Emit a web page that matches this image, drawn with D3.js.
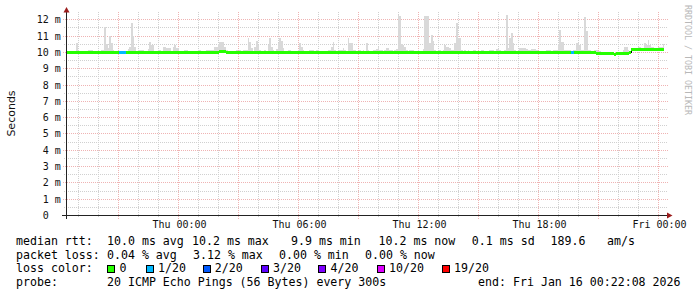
<!DOCTYPE html>
<html><head><meta charset="utf-8">
<script src="https://cdn.jsdelivr.net/npm/d3@7"></script>
<style>html,body{margin:0;padding:0;background:#fff;} svg{display:block;} text{white-space:pre;}</style>
</head><body><svg id="c" width="697" height="297"></svg>
<script>
// ---------------- data ----------------
const startTime = new Date(2026, 0, 14, 18, 22, 8);
const endTime = new Date(2026, 0, 16, 0, 22, 8);
const stepMinutes = 5;

const yTickValues = [0,1,2,3,4,5,6,7,8,9,10,11,12];
const yTickLabels = ["0  ","1 m","2 m","3 m","4 m","5 m","6 m","7 m","8 m","9 m","10 m","11 m","12 m"];
const yAxisTitle = "Seconds";
const watermark = "RRDTOOL / TOBI OETIKER";

// median RTT per 5-minute step (ms)
const medianRtt = [
 10.0,10.0,10.0,10.0,9.98,9.98,10.0,10.0,10.0,10.0,9.98,9.98,
 10.0,10.0,10.0,10.0,9.98,10.0,10.0,10.0,10.0,10.0,10.02,10.02,
 10.02,10.0,10.0,10.0,10.0,10.0,10.0,10.0,9.98,9.98,9.98,9.98,
 10.0,10.0,10.0,10.02,10.0,10.0,10.0,10.0,10.0,9.98,10.0,10.0,
 10.0,10.0,10.0,10.0,9.98,9.98,10.0,10.0,10.0,10.0,10.0,10.0,
 10.0,10.0,10.0,9.98,10.0,10.0,10.0,10.0,10.0,9.98,9.98,10.0,
 10.0,10.0,9.98,9.98,9.98,9.98,10.0,10.0,10.0,10.0,10.0,10.0,
 10.0,10.0,10.0,10.02,10.02,10.02,10.02,10.0,10.06,10.08,10.08,10.06,
 10.0,10.0,10.0,10.0,10.0,10.0,9.98,9.98,10.0,10.0,10.0,10.0,
 10.0,10.0,10.0,10.0,10.0,10.0,10.0,9.98,9.98,10.0,10.0,10.0,
 10.0,10.0,10.0,10.0,10.0,10.0,10.0,10.0,10.0,9.98,10.0,10.0,
 10.0,10.0,10.0,10.0,10.0,10.0,10.0,10.0,9.98,10.0,10.0,10.0,
 10.0,10.0,10.0,10.0,10.0,9.98,9.98,10.0,10.0,10.0,10.0,10.0,
 10.0,10.0,10.0,10.0,10.0,10.0,10.0,10.0,10.0,10.0,9.98,10.0,
 10.0,10.0,10.0,10.0,10.0,10.0,10.0,9.98,10.0,10.0,10.0,10.0,
 10.0,10.0,10.0,10.0,10.0,10.0,10.0,10.0,10.0,10.0,10.0,10.0,
 10.0,10.0,10.0,10.0,10.0,10.0,10.0,10.0,10.0,10.0,10.0,10.0,
 10.0,10.0,10.0,10.0,10.0,9.98,9.98,10.0,10.0,10.0,10.0,10.0,
 10.0,10.0,10.0,10.0,10.0,10.0,10.0,10.0,10.0,10.0,10.0,10.0,
 10.0,10.0,10.0,10.0,10.0,10.0,10.0,10.0,10.0,10.0,10.0,10.0,
 10.0,10.0,10.0,9.98,9.98,10.0,10.0,10.0,10.0,10.0,10.0,10.0,
 10.0,10.0,10.0,10.0,10.0,10.0,10.0,10.0,10.0,10.0,10.0,10.0,
 10.0,10.0,10.0,10.0,10.0,10.0,10.0,10.0,10.0,10.0,10.0,10.0,
 10.0,10.0,10.0,10.0,10.0,10.0,10.0,10.0,9.98,9.98,10.0,10.0,
 10.0,10.0,10.0,10.0,10.0,10.0,10.0,10.0,10.0,10.0,10.0,10.0,
 10.0,10.0,10.0,10.0,10.0,10.0,10.0,10.0,10.0,10.0,10.0,10.0,
 10.0,10.0,9.98,9.98,9.98,9.98,9.96,9.96,9.96,9.96,9.96,9.95,
 9.95,9.95,9.95,9.95,9.92,9.9,9.92,9.95,9.95,9.95,9.95,9.96,
 9.96,9.96,9.97,10.17,10.17,10.17,10.17,10.17,10.17,10.17,10.17,10.17,
 10.17,10.17,10.17,10.17,10.17,10.17,10.17,10.17,10.17,10.17,10.17
];

// highest ping of the smoke per 5-minute step (ms)
const smokeHigh = [
 10.04,10.04,10.06,10.1,10.1,10.1,10.55,10.1,10.1,10.08,10.08,10.1,
 10.1,10.17,10.17,10.12,10.1,10.1,10.1,10.08,10.1,10.12,10.15,11.53,
 10.5,10.3,11.02,10.55,10.12,10.08,10.05,10.05,10.08,10.1,10.1,10.08,
 10.1,10.2,10.35,11.82,11.02,10.35,10.1,10.12,10.12,10.17,10.17,10.1,
 10.1,10.24,10.65,10.45,10.45,10.1,10.05,10.15,10.15,10.08,10.35,10.35,
 10.25,10.27,10.27,10.1,10.35,10.47,10.3,10.25,10.1,10.08,10.1,10.12,
 10.12,10.1,10.1,10.08,10.05,10.05,10.1,10.12,10.12,10.1,10.08,10.1,
 10.12,10.15,10.15,10.12,10.15,10.35,10.35,10.51,10.61,10.61,10.67,10.35,
 10.12,10.08,10.05,10.05,10.1,10.1,10.12,10.1,10.12,10.1,10.15,10.12,
 10.15,10.86,10.61,10.3,10.1,10.35,10.72,10.45,10.12,10.1,10.1,10.12,
 10.1,10.45,10.9,10.35,10.12,10.1,10.2,10.6,10.9,10.72,10.25,10.1,
 10.1,10.17,10.12,10.1,10.08,10.1,10.1,10.15,10.58,10.35,10.12,10.1,
 10.1,10.1,10.12,10.15,10.12,10.1,10.15,10.12,10.1,10.1,10.08,10.1,
 10.1,10.12,10.15,10.35,10.65,10.15,10.1,10.1,10.12,10.15,10.27,10.15,
 10.1,10.88,10.6,10.6,10.15,10.12,10.1,10.1,10.12,10.1,10.12,10.1,
 10.55,10.12,10.1,10.1,10.12,10.15,10.2,10.31,10.15,10.12,10.1,10.15,
 10.3,10.3,10.15,10.12,10.1,10.15,10.2,12.3,12.25,10.51,10.45,10.35,
 10.12,10.1,10.12,10.15,10.12,10.1,10.1,10.12,10.1,10.1,10.2,12.25,
 12.25,12.25,10.6,11.08,10.72,10.15,10.1,10.1,10.12,10.1,10.15,10.45,
 10.35,10.35,10.27,10.12,10.15,10.55,11.8,10.88,10.88,10.15,10.1,10.12,
 10.1,10.12,10.1,10.1,10.12,10.12,10.1,10.1,10.1,10.12,10.12,10.1,
 10.1,10.1,10.12,10.17,10.12,10.1,10.2,10.2,10.12,10.1,10.1,10.15,
 12.27,10.3,10.88,11.2,10.55,10.12,10.1,10.1,10.27,10.27,10.27,10.27,
 10.2,10.15,10.15,10.24,10.24,10.2,10.12,10.1,10.1,10.1,10.1,10.1,
 10.15,10.15,10.12,10.1,10.15,10.12,10.15,10.5,11.39,10.65,10.65,10.12,
 10.12,10.15,10.12,10.1,10.15,10.12,10.6,10.6,10.45,10.15,10.12,12.15,
 11.33,10.15,10.12,10.1,10.1,10.12,10.12,10.1,10.08,10.05,10.05,10.05,
 10.02,10.02,10.0,10.0,10.0,9.98,9.98,10.0,10.02,10.05,10.12,10.35,
 10.35,10.17,10.1,10.3,10.3,10.3,10.3,10.32,10.32,10.3,10.3,10.55,
 10.45,10.78,10.45,10.32,10.32,10.3,10.3,10.32,10.35,10.35,10.51
];

// steps with packet loss (count out of 20)
const lossStep = [32, 33, 34, 35, 303, 304];
const lossCount = [1, 1, 1, 1, 1, 1];

const lossThresholds = [0, 1, 2, 3, 4, 10, 19];
const lossLabels = ["0", "1/20", "2/20", "3/20", "4/20", "10/20", "19/20"];
const lossColors = ["#26ff00", "#00b8ff", "#0059ff", "#5e00ff", "#7e00ff", "#dd00ff", "#ff0000"];

const legendRtt = ["median rtt:", "10.0 ms avg", "10.2 ms max", "9.9 ms min", "10.2 ms now", "0.1 ms sd", "189.6", "am/s"];
const legendLoss = ["packet loss:", "0.04 % avg", "3.12 % max", "0.00 % min", "0.00 % now"];
const legendColorTitle = "loss color:";
const legendProbe = ["probe:", "20 ICMP Echo Pings (56 Bytes) every 300s"];
const legendEnd = "end: Fri Jan 16 00:22:08 2026";

// ---------------- drawing ----------------
const svg = d3.select("#c");
const x = d3.scaleTime().domain([startTime, endTime]).range([66, 666]);
const y = d3.scaleLinear().domain([0, 12.48]).range([215.5, 12]);
const px = v => Math.floor(v) + 0.5;
const mono = "'DejaVu Sans Mono', monospace";

const steps = medianRtt.map((m, i) => {
  const li = lossStep.indexOf(i);
  const lc = li >= 0 ? lossCount[li] : 0;
  let ci = 0;
  lossThresholds.forEach((t, k) => { if (lc >= t) ci = k; });
  return { i, t0: d3.timeMinute.offset(startTime, i * stepMinutes),
           t1: d3.timeMinute.offset(startTime, (i + 1) * stepMinutes),
           med: m, hi: smokeHigh[i], color: lossColors[ci], loss: lc };
});
const stepPts = steps.map(d => ({ t: d.t0, med: d.med, hi: d.hi }));
const last = steps[steps.length - 1];
stepPts.push({ t: last.t1, med: last.med, hi: last.hi });

// grid
const grid = svg.append("g").attr("shape-rendering", "crispEdges");
const halfTicks = y.ticks(26).filter(v => v <= 12);
const minorH = halfTicks.filter(v => Math.abs(v % 1) > 0.01);
const majorH = yTickValues.filter(v => v > 0);
const minorC = "#d0d0d0", majorC = "#efb3b3";
grid.selectAll(".hmin").data(minorH).join("line")
  .attr("x1", 64).attr("x2", 668)
  .attr("y1", d => px(y(d))).attr("y2", d => px(y(d)))
  .attr("stroke", minorC).attr("stroke-dasharray", "1,1");
const hours = d3.timeHour.every(1).range(startTime, endTime);
grid.selectAll(".vmin").data(hours.filter(h => h.getHours() % 3 !== 0)).join("line")
  .attr("x1", d => px(x(d))).attr("x2", d => px(x(d)))
  .attr("y1", 12).attr("y2", 218)
  .attr("stroke", minorC).attr("stroke-dasharray", "1,1");
grid.selectAll(".hmaj").data(majorH).join("line")
  .attr("x1", 63).attr("x2", 668)
  .attr("y1", d => px(y(d))).attr("y2", d => px(y(d)))
  .attr("stroke", majorC).attr("stroke-dasharray", "1,1");
grid.selectAll(".vmaj").data(hours.filter(h => h.getHours() % 3 === 0)).join("line")
  .attr("x1", d => px(x(d))).attr("x2", d => px(x(d)))
  .attr("y1", 12).attr("y2", 219)
  .attr("stroke", majorC).attr("stroke-dasharray", "1,1");

// smoke
svg.append("path").datum(stepPts)
  .attr("shape-rendering", "crispEdges")
  .attr("fill", "#d9d9d9")
  .attr("d", d3.area().curve(d3.curveStepAfter)
    .x(d => x(d.t)).y0(d => y(d.med)).y1(d => y(d.hi)));

// black median trace under the coloured band
svg.append("path").datum(stepPts)
  .attr("shape-rendering", "crispEdges")
  .attr("fill", "none").attr("stroke", "#000").attr("stroke-width", 1)
  .attr("d", d3.line().curve(d3.curveStepAfter).x(d => x(d.t)).y(d => y(d.med)));

// median band coloured by loss
svg.append("path").datum(stepPts)
  .attr("shape-rendering", "crispEdges")
  .attr("fill", lossColors[0])
  .attr("d", d3.area().curve(d3.curveStepAfter)
    .x(d => x(d.t)).y0(d => y(d.med) + 1.5).y1(d => y(d.med) - 1.5));
svg.append("g").attr("shape-rendering", "crispEdges")
  .selectAll("rect").data(steps.filter(d => d.loss > 0)).join("rect")
  .attr("x", d => x(d.t0)).attr("width", d => x(d.t1) - x(d.t0))
  .attr("y", d => y(d.med) - 1.5).attr("height", 3)
  .attr("fill", d => d.color);

// axes
const axisC = "#222", arrowC = "#9b1c1c";
svg.append("line").attr("x1", 62).attr("x2", 668).attr("y1", 215.5).attr("y2", 215.5)
  .attr("stroke", axisC).attr("shape-rendering", "crispEdges");
svg.append("line").attr("x1", 66.5).attr("x2", 66.5).attr("y1", 219).attr("y2", 12)
  .attr("stroke", axisC).attr("shape-rendering", "crispEdges");
svg.append("path").attr("d", "M667,212.5 L672.5,215.5 L667,218.5 Z").attr("fill", arrowC);
svg.append("path").attr("d", "M63.5,12.5 L66.5,7 L69.5,12.5 Z").attr("fill", arrowC);

// y tick labels
svg.append("g").selectAll("text").data(yTickValues).join("text")
  .attr("x", 60.8).attr("y", d => px(y(d)) + 3.4)
  .attr("text-anchor", "end")
  .attr("font-family", mono).attr("font-size", 10).attr("fill", "#111")
  .text((d, i) => yTickLabels[i]);

// x tick labels
const labelHours = hours.filter(h => h.getHours() % 6 === 0);
const fmt = d3.timeFormat("%a %H:%M");
svg.append("g").selectAll("text").data(labelHours).join("text")
  .attr("x", d => px(x(d)) + 1).attr("y", 227.5)
  .attr("text-anchor", "middle")
  .attr("font-family", mono).attr("font-size", 10).attr("fill", "#111")
  .text(d => fmt(d));

// axis title
svg.append("text").attr("transform", "translate(14.5,113.5) rotate(-90)")
  .attr("text-anchor", "middle")
  .attr("font-family", "'DejaVu Sans', sans-serif").attr("font-size", 11).attr("fill", "#111")
  .text(yAxisTitle);

// watermark
svg.append("text").attr("transform", "translate(685,5) rotate(90)")
  .attr("font-family", mono).attr("font-size", 8.4).attr("fill", "#b8b8b8")
  .attr("textLength", 110).attr("lengthAdjust", "spacing")
  .text(watermark);

// legend
const lg = svg.append("g").attr("font-family", mono).attr("font-size", 11.6).attr("fill", "#000");
const rttX = [16, 107, 192, 291, 378.5, 471.8, 550.5, 607];
legendRtt.forEach((s, i) => lg.append("text").attr("x", rttX[i]).attr("y", 245).text(s));
const lossX = [16, 107, 193, 279, 365];
legendLoss.forEach((s, i) => lg.append("text").attr("x", lossX[i]).attr("y", 258.5).text(s));
lg.append("text").attr("x", 16).attr("y", 272).text(legendColorTitle);
const sqX = [107, 145.5, 202.5, 260.5, 318, 376.5, 441.5];
const sqLabX = [119.5, 158, 214.7, 273, 330.5, 389, 454];
lossLabels.forEach((s, i) => {
  lg.append("rect").attr("x", sqX[i] + 0.5).attr("y", 265.5).attr("width", 7).attr("height", 7)
    .attr("fill", lossColors[i]).attr("stroke", "#000").attr("shape-rendering", "crispEdges");
  lg.append("text").attr("x", sqLabX[i]).attr("y", 272).text(s);
});
lg.append("text").attr("x", 16).attr("y", 285.5).text(legendProbe[0]);
lg.append("text").attr("x", 107).attr("y", 285.5).text(legendProbe[1]);
lg.append("text").attr("x", 680.5).attr("y", 285.5).attr("text-anchor", "end").text(legendEnd);
</script>
</body></html>
